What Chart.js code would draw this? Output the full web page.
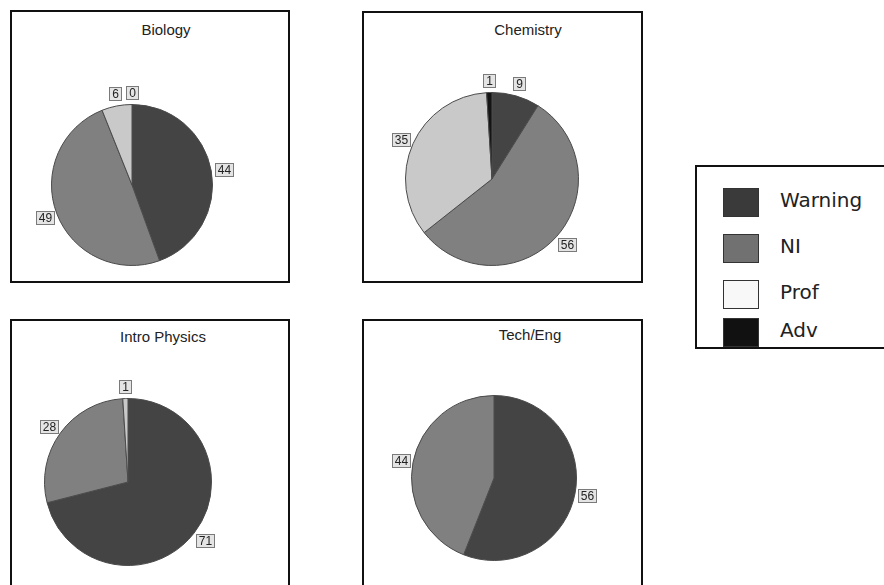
<!DOCTYPE html>
<html lang="en">
<head>
  <meta charset="UTF-8">
  <title>Performance by course</title>
  <script src="https://cdn.jsdelivr.net/npm/chart.js"></script>
  <style>
    body {
      margin: 0;
      width: 884px;
      height: 585px;
      overflow: hidden;
      background: #fff;
      position: relative;
      font-family: "Liberation Sans", Arial, sans-serif;
    }
    .panel {
      position: absolute;
      border: 2px solid #111;
      box-sizing: border-box;
    }
    .ptitle {
      position: absolute;
      width: 200px;
      text-align: center;
      font-size: 15px;
      color: #222;
      line-height: 16px;
    }
    canvas { position: absolute; }
    .legend {
      position: absolute;
      left: 695px;
      top: 165px;
      width: 210px;
      height: 184px;
      border: 2px solid #111;
      box-sizing: border-box;
      overflow: hidden;
      font-family: "DejaVu Sans", Verdana, sans-serif;
      font-size: 20px;
      color: #222;
    }
    .item {
      position: absolute;
      left: 26px;
      height: 29px;
      line-height: 29px;
    }
    .swatch {
      position: absolute;
      left: 0;
      top: 0;
      width: 36px;
      height: 29px;
      border: 1px solid #333;
      box-sizing: border-box;
    }
    .item span { position: absolute; left: 57px; top: -2px; white-space: nowrap; }
  </style>
</head>
<body>
  <div class="panel" style="left:10px;top:10px;width:280px;height:273px"></div>
  <div class="panel" style="left:362px;top:11px;width:281px;height:272px"></div>
  <div class="panel" style="left:10px;top:319px;width:280px;height:280px"></div>
  <div class="panel" style="left:362px;top:319px;width:281px;height:280px"></div>
  <div class="legend" id="legend"></div>

  <script>
    const categories = ['Warning', 'NI', 'Prof', 'Adv'];
    const panelTitles = ['Biology', 'Chemistry', 'Intro Physics', 'Tech/Eng'];
    // null = category not shown in that pie
    const biology = [44, 49, 6, 0];
    const chemistry = [9, 56, 35, 1];
    const introPhysics = [71, 28, 1, null];
    const techEng = [56, 44, null, null];

    const pieColors = ['#444444', '#808080', '#c9c9c9', '#141414'];
    const legendColors = ['#3a3a3a', '#717171', '#f8f8f8', '#111111'];

    // pie centre / radius and title centre on the page
    const panels = [
      { values: biology, cx: 132, cy: 185, r: 81, tx: 166, ty: 22 },
      { values: chemistry, cx: 492, cy: 179, r: 87, tx: 528, ty: 22 },
      { values: introPhysics, cx: 128, cy: 482, r: 84, tx: 163, ty: 329 },
      { values: techEng, cx: 494, cy: 478, r: 83, tx: 530, ty: 327 }
    ];

    // boxed value labels just outside each slice
    const outsideLabels = {
      id: 'outsideLabels',
      afterDatasetsDraw(chart) {
        const ctx = chart.ctx;
        const ds = chart.data.datasets[0];
        ctx.save();
        ctx.font = '12px "Liberation Sans", Arial, sans-serif';
        ctx.textAlign = 'center';
        ctx.textBaseline = 'middle';
        chart.getDatasetMeta(0).data.forEach((arc, i) => {
          const p = arc.getProps(['x', 'y', 'startAngle', 'endAngle', 'outerRadius'], true);
          const mid = (p.startAngle + p.endAngle) / 2;
          const dx = Math.cos(mid), dy = Math.sin(mid);
          const txt = String(ds.data[i]);
          const w = Math.round(ctx.measureText(txt).width) + 5;
          const h = 13;
          const gap = 3 + 3 * Math.abs(dy);
          const px = p.x + dx * (p.outerRadius + gap);
          const py = p.y + dy * (p.outerRadius + gap);
          const bx = Math.round(px + dx * w / 2 - w / 2) + 0.5;
          const by = Math.round(py + dy * h / 2 - h / 2) + 0.5;
          ctx.fillStyle = '#e4e4e4';
          ctx.fillRect(bx, by, w, h);
          ctx.strokeStyle = '#7a7a7a';
          ctx.lineWidth = 1;
          ctx.strokeRect(bx, by, w, h);
          ctx.fillStyle = '#222';
          ctx.fillText(txt, bx + w / 2, by + h / 2 + 0.5);
        });
        ctx.restore();
      }
    };

    const pad = 30;
    panels.forEach((pn, k) => {
      const labels = [], data = [], colors = [];
      pn.values.forEach((v, i) => {
        if (v === null) return;
        labels.push(categories[i]);
        data.push(v);
        colors.push(pieColors[i]);
      });

      const size = 2 * (pn.r + pad);
      const cv = document.createElement('canvas');
      cv.width = size;
      cv.height = size;
      cv.style.left = (pn.cx - size / 2) + 'px';
      cv.style.top = (pn.cy - size / 2) + 'px';
      document.body.appendChild(cv);

      const t = document.createElement('div');
      t.className = 'ptitle';
      t.textContent = panelTitles[k];
      t.style.left = (pn.tx - 100) + 'px';
      t.style.top = pn.ty + 'px';
      document.body.appendChild(t);

      new Chart(cv.getContext('2d'), {
        type: 'pie',
        data: {
          labels: labels,
          datasets: [{
            data: data,
            backgroundColor: colors,
            borderColor: '#4a4a4a',
            borderWidth: 1
          }]
        },
        options: {
          responsive: false,
          animation: false,
          events: [],
          layout: { padding: pad },
          plugins: {
            legend: { display: false },
            tooltip: { enabled: false }
          }
        },
        plugins: [outsideLabels]
      });
    });

    // shared legend, rows as in the original (last one a bit tighter)
    const legend = document.getElementById('legend');
    const rowTops = [21, 67, 113, 151];
    categories.forEach((c, i) => {
      const it = document.createElement('div');
      it.className = 'item';
      it.style.top = rowTops[i] + 'px';
      it.innerHTML = '<div class="swatch" style="background:' + legendColors[i] + '"></div><span>' + c + '</span>';
      legend.appendChild(it);
    });
  </script>
</body>
</html>
